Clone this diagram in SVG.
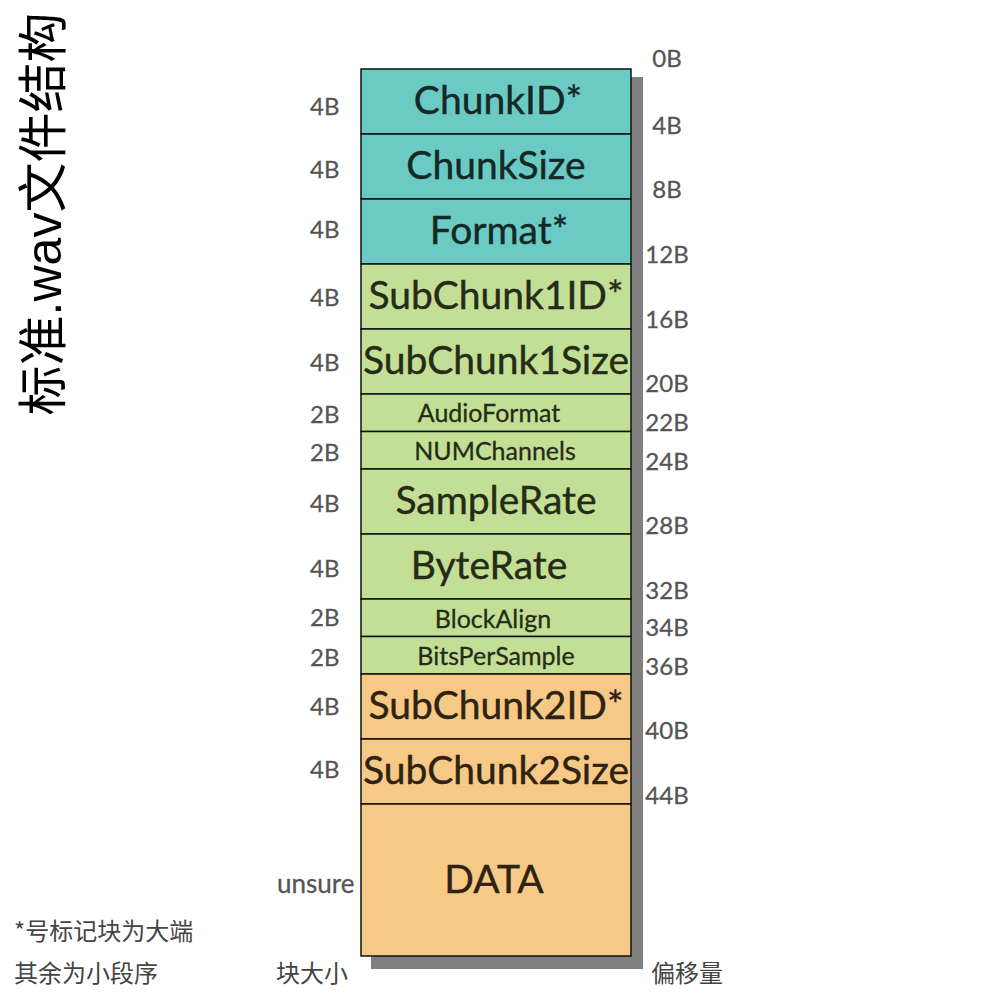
<svg xmlns="http://www.w3.org/2000/svg" width="1000" height="1000" viewBox="0 0 1000 1000">
<style>
.t{fill:#6ccac4}.g{fill:#c3df95}.o{fill:#f7c986}
.cell{stroke:#111;stroke-width:1.5}
.big{font-family:Lato,"Open Sans",sans-serif;font-size:39px;text-anchor:middle;stroke-width:0.4}
.sm{font-family:Lato,"Open Sans",sans-serif;font-size:25px;text-anchor:middle;stroke-width:0.3}
.tt{fill:#142826;stroke:#142826}.gt{fill:#262b17;stroke:#262b17}.ot{fill:#2e2212;stroke:#2e2212}
.lab{font-family:Lato,"Open Sans",sans-serif;font-size:24px;fill:#555;stroke:#555;stroke-width:0.3}
.off{font-family:Lato,"Open Sans",sans-serif;font-size:24px;fill:#555;stroke:#555;stroke-width:0.3;text-anchor:middle}
.cjk{font-family:"Noto Sans CJK SC",sans-serif;font-size:24px;fill:#444}
</style>
<rect x="0" y="0" width="1000" height="1000" fill="#fff"/>
<text transform="translate(61,214) rotate(-90)" font-family="'Liberation Sans','Noto Sans CJK SC',sans-serif" font-size="50" text-anchor="middle" fill="#000">标准.wav文件结构</text>
<rect id="shadow" x="371" y="77" width="272" height="892" fill="#808080"/>
<g id="n-chunkid"><rect class="t cell" x="361" y="69" width="270" height="65"/><text class="big tt" x="498" y="114">ChunkID*</text></g>
<g id="n-chunksize"><rect class="t cell" x="361" y="134" width="270" height="65"/><text class="big tt" x="496" y="179">ChunkSize</text></g>
<g id="n-format"><rect class="t cell" x="361" y="199" width="270" height="65"/><text class="big tt" x="499" y="244">Format*</text></g>
<g id="n-sc1id"><rect class="g cell" x="361" y="264" width="270" height="65"/><text class="big gt" x="496" y="309">SubChunk1ID*</text></g>
<g id="n-sc1size"><rect class="g cell" x="361" y="329" width="270" height="65"/><text class="big gt" x="496" y="374">SubChunk1Size</text></g>
<g id="n-audiofmt"><rect class="g cell" x="361" y="394" width="270" height="37.5"/><text class="sm gt" x="489" y="422">AudioFormat</text></g>
<g id="n-numch"><rect class="g cell" x="361" y="431.5" width="270" height="37.5"/><text class="sm gt" x="495" y="460">NUMChannels</text></g>
<g id="n-samplerate"><rect class="g cell" x="361" y="469" width="270" height="65"/><text class="big gt" x="496" y="514">SampleRate</text></g>
<g id="n-byterate"><rect class="g cell" x="361" y="534" width="270" height="65"/><text class="big gt" x="489" y="579">ByteRate</text></g>
<g id="n-blockalign"><rect class="g cell" x="361" y="599" width="270" height="37.5"/><text class="sm gt" x="493" y="628">BlockAlign</text></g>
<g id="n-bps"><rect class="g cell" x="361" y="636.5" width="270" height="37.5"/><text class="sm gt" x="496" y="665">BitsPerSample</text></g>
<g id="n-sc2id"><rect class="o cell" x="361" y="674" width="270" height="65"/><text class="big ot" x="496" y="719">SubChunk2ID*</text></g>
<g id="n-sc2size"><rect class="o cell" x="361" y="739" width="270" height="65"/><text class="big ot" x="496" y="784">SubChunk2Size</text></g>
<g id="n-data"><rect class="o cell" x="361" y="804" width="270" height="152"/><text class="big ot" x="494" y="893">DATA</text></g>
<g id="sizes">
<text class="lab" x="310" y="115">4B</text>
<text class="lab" x="310" y="178">4B</text>
<text class="lab" x="310" y="238">4B</text>
<text class="lab" x="310" y="306">4B</text>
<text class="lab" x="310" y="371">4B</text>
<text class="lab" x="310" y="423">2B</text>
<text class="lab" x="310" y="461">2B</text>
<text class="lab" x="310" y="512">4B</text>
<text class="lab" x="310" y="577">4B</text>
<text class="lab" x="310" y="626">2B</text>
<text class="lab" x="310" y="666">2B</text>
<text class="lab" x="310" y="715">4B</text>
<text class="lab" x="310" y="778">4B</text>
<text class="lab" x="277" y="893" style="font-size:26px">unsure</text>
</g>
<g id="offsets">
<text class="off" x="667" y="67">0B</text>
<text class="off" x="667" y="134">4B</text>
<text class="off" x="667" y="198">8B</text>
<text class="off" x="667" y="263">12B</text>
<text class="off" x="667" y="328">16B</text>
<text class="off" x="667" y="392">20B</text>
<text class="off" x="667" y="431">22B</text>
<text class="off" x="667" y="470">24B</text>
<text class="off" x="667" y="534">28B</text>
<text class="off" x="667" y="599">32B</text>
<text class="off" x="667" y="636">34B</text>
<text class="off" x="667" y="675">36B</text>
<text class="off" x="667" y="739">40B</text>
<text class="off" x="667" y="804">44B</text>
</g>
<g id="notes">
<text class="cjk" x="14" y="940">*号标记块为大端</text>
<text class="cjk" x="14" y="982">其余为小段序</text>
<text class="cjk" x="276" y="982">块大小</text>
<text class="cjk" x="651" y="982">偏移量</text>
</g>
</svg>
